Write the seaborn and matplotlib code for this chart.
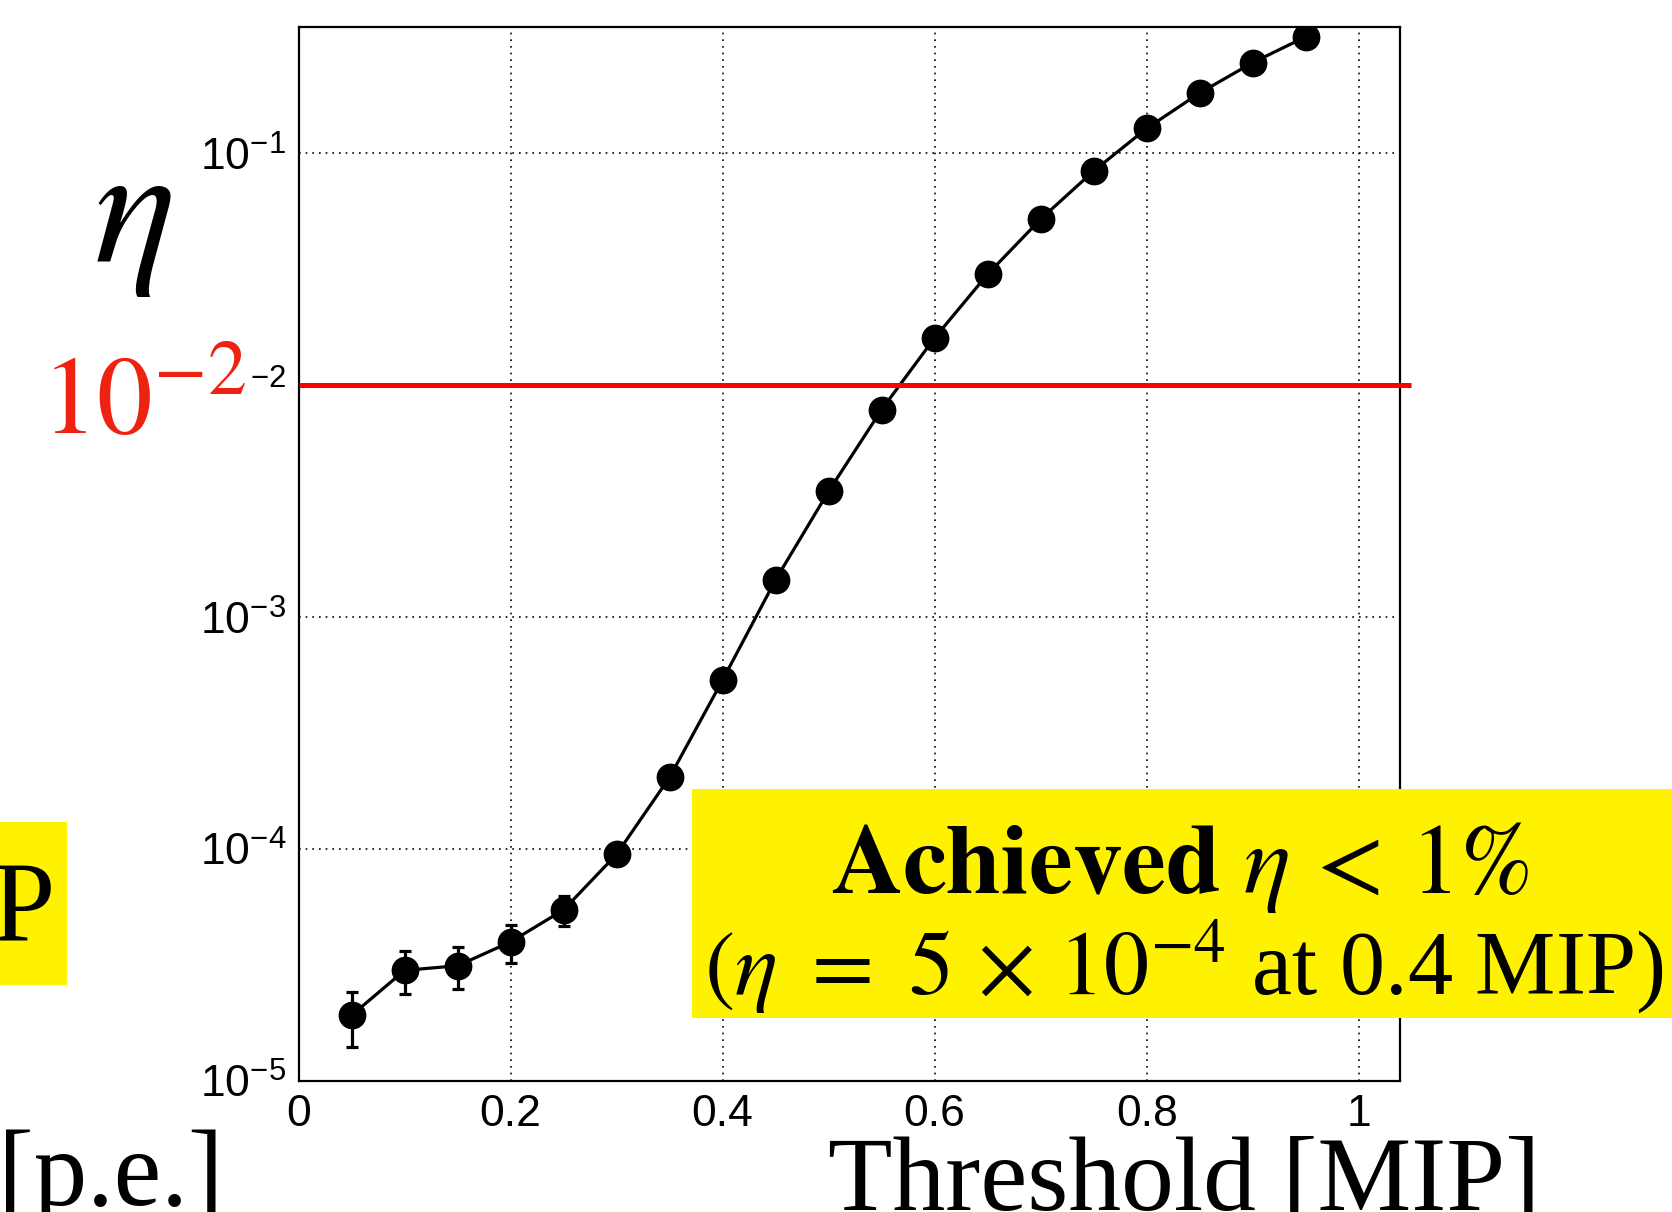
import numpy as np
import pandas as pd
import matplotlib
matplotlib.use("Agg")
import matplotlib.pyplot as plt
import matplotlib.ticker as mticker
from matplotlib.patches import Rectangle
import seaborn as sns

# ---------------- data ----------------
threshold_mip = [0.05, 0.10, 0.15, 0.20, 0.25, 0.30, 0.35, 0.40, 0.45, 0.50,
                 0.55, 0.60, 0.65, 0.70, 0.75, 0.80, 0.85, 0.90, 0.95]
eta = [1.92e-5, 3.00e-5, 3.14e-5, 3.98e-5, 5.47e-5, 9.5e-5, 2.04e-4, 5.36e-4,
       1.45e-3, 3.49e-3, 7.85e-3, 1.60e-2, 3.01e-2, 5.20e-2, 8.39e-2,
       0.128, 0.182, 0.246, 0.318]
eta_err_low_edge = [1.40e-5, 2.37e-5, 2.50e-5, 3.23e-5, 4.65e-5, 8.8e-5, 1.95e-4,
                    5.2e-4, 1.42e-3, 3.44e-3, 7.78e-3, 1.59e-2, 3.0e-2, 5.18e-2,
                    8.37e-2, 0.1277, 0.1817, 0.2457, 0.3177]
eta_err_high_edge = [2.42e-5, 3.65e-5, 3.80e-5, 4.70e-5, 6.30e-5, 1.02e-4, 2.13e-4,
                     5.52e-4, 1.48e-3, 3.54e-3, 7.92e-3, 1.61e-2, 3.02e-2, 5.22e-2,
                     8.41e-2, 0.1283, 0.1823, 0.2463, 0.3183]
eta_target = 0.01

x_ticks = [0.0, 0.2, 0.4, 0.6, 0.8, 1.0]
x_tick_labels = ["0", "0.2", "0.4", "0.6", "0.8", "1"]
y_ticks = [1e-5, 1e-4, 1e-3, 1e-2, 1e-1]
y_tick_labels = [r"$10^{-5}$", r"$10^{-4}$", r"$10^{-3}$", r"${}^{-2}$", r"$10^{-1}$"]

# ---------------- style ----------------
sns.set_theme(style="white")
plt.rcParams.update({
    "font.family": ["Liberation Sans", "DejaVu Sans"],
    "mathtext.fontset": "custom",
    "mathtext.rm": "Liberation Sans",
    "mathtext.it": "Liberation Sans:italic",
    "mathtext.bf": "Liberation Sans:bold",
    "axes.edgecolor": "black",
})

W, H = 1672, 1212
fig = plt.figure(figsize=(W / 100, H / 100), dpi=100)
fig.patch.set_facecolor("white")
ax = fig.add_axes([298.6 / W, 1 - 1081 / H, (1400 - 298.6) / W, (1081 - 26.7) / H])

df = pd.DataFrame({"threshold": threshold_mip, "eta": eta,
                   "lo": eta_err_low_edge, "hi": eta_err_high_edge})

ax.errorbar(df["threshold"], df["eta"],
            yerr=[df["eta"] - df["lo"], df["hi"] - df["eta"]],
            fmt="none", ecolor="black", elinewidth=2.3, capsize=4.5,
            capthick=2.3, zorder=3)
sns.lineplot(data=df, x="threshold", y="eta", ax=ax, color="black",
             linewidth=2.3, marker="o", markersize=20,
             markeredgewidth=0, zorder=4)

ax.set_yscale("log")
ax.set_xlim(0, 1.039)
ax.set_ylim(1e-5, 0.3515)

# red target line, running slightly past the right frame
x_end = ax.get_xlim()[1] + 0.01
ax.plot([ax.get_xlim()[0], x_end], [eta_target, eta_target], color="#ff0000",
        lw=3.6, clip_on=False, zorder=6, solid_capstyle="butt")

ax.set_xticks(x_ticks, x_tick_labels)
ax.xaxis.set_minor_locator(mticker.MultipleLocator(0.05))
ax.set_yticks(y_ticks, y_tick_labels)
ax.yaxis.set_minor_locator(mticker.LogLocator(base=10, subs=np.arange(2, 10)))
ax.yaxis.set_minor_formatter(mticker.NullFormatter())
ax.tick_params(which="both", direction="in", top=False, right=False,
               width=1.6, color="black", labelcolor="black")
ax.tick_params(which="major", length=22.5, labelsize=32, pad=9)
ax.tick_params(which="minor", length=11)
ax.grid(True, which="major", linestyle=(0, (1, 3)), color="black", lw=1.2)
for s in ax.spines.values():
    s.set_visible(True)
    s.set_color("black")
    s.set_linewidth(1.6)
ax.set_xlabel("")
ax.set_ylabel("")

# ---------------- slide overlays ----------------
yellow = "#FFF200"
fig.patches.append(Rectangle((692 / W, 1 - 1018 / H), 1 - 692 / W, (1018 - 789) / H,
                             transform=fig.transFigure, facecolor=yellow,
                             edgecolor="none", zorder=1))
fig.patches.append(Rectangle((0, 1 - 985 / H), 67 / W, (985 - 822) / H,
                             transform=fig.transFigure, facecolor=yellow,
                             edgecolor="none", zorder=1))

fig.text(133 / W, 1 - 262 / H, r"$\eta$", fontsize=123, ha="center",
         va="baseline", math_fontfamily="stix", color="black")
fig.text(41 / W, 1 - 433 / H, r"$10^{-2}$", fontsize=80, ha="left",
         va="baseline", math_fontfamily="stix", color="#EE2211")
fig.text(1180 / W, 1 - 893 / H, r"$\mathbf{Achieved}\ \eta\,<\,1\%$",
         fontsize=71, ha="center", va="baseline", math_fontfamily="stix",
         color="black", zorder=3)
fig.text(1184 / W, 1 - 995 / H, r"$(\eta\ =\ 5\,\times\,10^{-4}$ at 0.4 MIP)",
         fontsize=65, ha="center", va="baseline", family="Liberation Serif",
         math_fontfamily="stix", color="black", zorder=3)
fig.text(828 / W, 1 - 1210 / H, "Threshold [MIP]", fontsize=76, ha="left",
         va="baseline", family="Liberation Serif", color="black")
fig.text(-2 / W, 1 - 1205 / H, "[p.e.]", fontsize=77, ha="left",
         va="baseline", family="Liberation Serif", color="black")
fig.text(55 / W, 1 - 940 / H, "P", fontsize=82, ha="right",
         va="baseline", family="Liberation Serif", color="black", zorder=3)

fig.savefig("out.png", dpi=100)
